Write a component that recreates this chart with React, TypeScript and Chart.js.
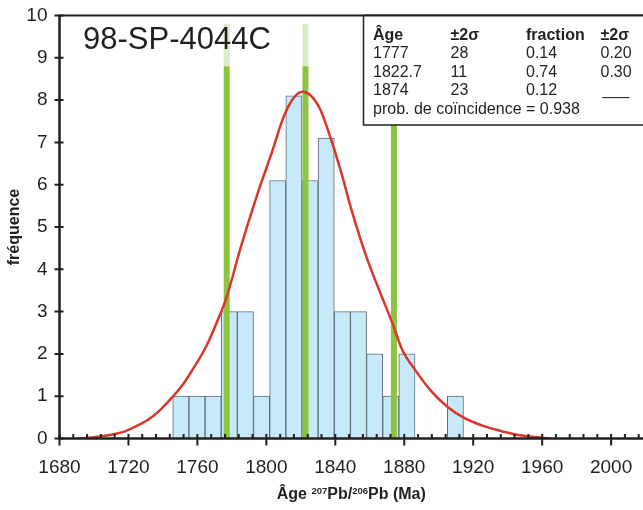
import React, { useEffect, useRef } from "react";
import { Chart, registerables } from "chart.js";

Chart.register(...registerables);

// ---------- data ----------
const binCenters = [
  1750.38, 1759.75, 1769.12, 1778.49, 1787.86, 1797.23, 1806.6, 1815.97, 1825.34,
  1834.71, 1844.08, 1853.45, 1862.82, 1872.19, 1881.56, 1890.93, 1900.3, 1909.67,
];
const binCounts = [1, 1, 1, 3, 3, 1, 6.1, 8.1, 6.1, 7.1, 3, 3, 2, 1, 2, 0, 0, 1];

const curveAges = [
  1690, 1700, 1710, 1718, 1726, 1732, 1738, 1746, 1752, 1758, 1765, 1771, 1777, 1785,
  1795, 1803, 1810, 1816, 1821, 1826, 1831, 1837, 1843, 1850, 1858, 1866, 1873, 1879,
  1886, 1895, 1905, 1915, 1925, 1934, 1944, 1954, 1965,
];
const curveDensity = [
  0, 0.03, 0.09, 0.17, 0.32, 0.46, 0.66, 1.0, 1.3, 1.68, 2.17, 2.72, 3.35, 4.5,
  5.8, 6.74, 7.6, 8.06, 8.2, 8.1, 7.8, 7.14, 6.35, 5.32, 4.3, 3.45, 2.74, 2.08,
  1.64, 1.15, 0.75, 0.48, 0.31, 0.2, 0.1, 0.04, 0,
];

const peakAges = [1777, 1822.7, 1874];
const peakSolidTop = 8.8;
const peakPaleTop = 9.8;

const xTickValues = [1680, 1720, 1760, 1800, 1840, 1880, 1920, 1960, 2000];
const yTickValues = [0, 1, 2, 3, 4, 5, 6, 7, 8, 9, 10];
const xMin = 1680;
const xMax = 2018.5;
const xMinorStep = 8;

const sampleName = "98-SP-4044C";
const legendHeader = ["Âge", "±2σ", "fraction", "±2σ"];
const legendRows = [
  ["1777", "28", "0.14", "0.20"],
  ["1822.7", "11", "0.74", "0.30"],
  ["1874", "23", "0.12", "___"],
];
const legendNote = "prob. de coïncidence = 0.938";
const yTitle = "fréquence";

// ---------- styling ----------
const FONT = '"Liberation Sans", Arial, Helvetica, sans-serif';
const INK = "#231f20";
const GREEN = "#8cc43f";
const GREEN_PALE = "#dcecc9";
const RED = "#d9372a";
const BAR_FILL = "#c8e9f9";
const BAR_EDGE = "#5f6c75";

const decorPlugin = {
  id: "decor",
  afterDatasetsDraw(chart: any) {
    const { ctx, chartArea: a, scales } = chart;
    const xs = scales.x;
    const ys = scales.y;
    ctx.save();
    ctx.strokeStyle = INK;
    ctx.lineCap = "butt";
    ctx.lineWidth = 2;
    ctx.beginPath();
    for (let v = xMin; v <= xMax; v += xMinorStep) {
      const px = xs.getPixelForValue(v);
      ctx.moveTo(px, a.bottom - 4.5);
      ctx.lineTo(px, a.bottom);
    }
    for (const t of xs.ticks) {
      const px = xs.getPixelForValue(t.value);
      ctx.moveTo(px, a.bottom - 4.5);
      ctx.lineTo(px, a.bottom + 7);
    }
    for (const t of ys.ticks) {
      const py = ys.getPixelForValue(t.value);
      ctx.moveTo(a.left - 5, py);
      ctx.lineTo(a.left + 4, py);
    }
    ctx.stroke();
    ctx.lineWidth = 2.5;
    ctx.beginPath();
    ctx.moveTo(a.left, a.top);
    ctx.lineTo(a.left, a.bottom + 1.2);
    ctx.moveTo(a.left - 1.2, a.bottom);
    ctx.lineTo(a.right, a.bottom);
    ctx.stroke();
    ctx.lineWidth = 2;
    ctx.beginPath();
    ctx.moveTo(a.left - 1.2, a.top);
    ctx.lineTo(a.right, a.top);
    ctx.stroke();
    ctx.restore();
  },
  afterDraw(chart: any) {
    const { ctx, chartArea: a } = chart;
    ctx.save();
    // sample name
    ctx.fillStyle = INK;
    ctx.textBaseline = "alphabetic";
    ctx.textAlign = "left";
    ctx.font = `31px ${FONT}`;
    ctx.fillText(sampleName, 83, 48.5);

    // legend box
    const bx = 363.5;
    const by = a.top;
    ctx.fillStyle = "#ffffff";
    ctx.fillRect(bx, by, 700 - bx, 125 - by);
    ctx.strokeStyle = INK;
    ctx.lineWidth = 1.5;
    ctx.beginPath();
    ctx.moveTo(bx, by);
    ctx.lineTo(bx, 125);
    ctx.lineTo(700, 125);
    ctx.stroke();
    ctx.lineWidth = 2;
    ctx.beginPath();
    ctx.moveTo(bx, by);
    ctx.lineTo(700, by);
    ctx.stroke();

    const cols = [373, 450.5, 526, 600.5];
    const baselines = [39.5, 58, 76.5, 95];
    ctx.fillStyle = INK;
    ctx.font = `bold 16px ${FONT}`;
    legendHeader.forEach((t, i) => ctx.fillText(t, cols[i], baselines[0]));
    ctx.font = `16px ${FONT}`;
    legendRows.forEach((row, r) => {
      row.forEach((t, i) => ctx.fillText(t, cols[i] + (t === "___" ? 2 : 0), baselines[r + 1]));
    });
    ctx.fillText(legendNote, cols[0], 113.5);

    // x-axis title with superscripts
    const big = `bold 16px ${FONT}`;
    const small = `bold 9.5px ${FONT}`;
    const parts: [string, boolean][] = [
      ["Âge ", false],
      ["207", true],
      ["Pb/", false],
      ["206", true],
      ["Pb (Ma)", false],
    ];
    let total = 0;
    for (const [t, sup] of parts) {
      ctx.font = sup ? small : big;
      total += ctx.measureText(t).width;
    }
    let cx = (a.left + a.right) / 2 - total / 2;
    const base = 499;
    for (const [t, sup] of parts) {
      ctx.font = sup ? small : big;
      ctx.fillText(t, cx, sup ? base - 5 : base);
      cx += ctx.measureText(t).width;
    }
    ctx.restore();
  },
};

export default function App() {
  const ref = useRef<HTMLCanvasElement | null>(null);

  useEffect(() => {
    if (!ref.current) return;
    const peakSolid = peakAges.map((age) => ({
      type: "line" as const,
      data: [
        { x: age, y: 0 },
        { x: age, y: peakSolidTop },
      ],
      borderColor: GREEN,
      borderWidth: 6,
      pointRadius: 0,
      fill: false,
      order: 1,
    }));
    const peakPale = peakAges.map((age) => ({
      type: "line" as const,
      data: [
        { x: age, y: peakSolidTop },
        { x: age, y: peakPaleTop },
      ],
      borderColor: GREEN_PALE,
      borderWidth: 6,
      pointRadius: 0,
      fill: false,
      order: 1,
    }));

    const chart = new Chart(ref.current, {
      type: "bar",
      data: {
        datasets: [
          {
            type: "line" as const,
            data: curveAges.map((x, i) => ({ x, y: curveDensity[i] })),
            borderColor: RED,
            borderWidth: 2.5,
            pointRadius: 0,
            fill: false,
            cubicInterpolationMode: "monotone",
            order: 0,
          },
          ...peakSolid,
          ...peakPale,
          {
            type: "bar" as const,
            data: binCenters.map((x, i) => ({ x, y: binCounts[i] })),
            backgroundColor: BAR_FILL,
            borderColor: BAR_EDGE,
            borderWidth: 1,
            barPercentage: 1,
            categoryPercentage: 1,
            order: 2,
          },
        ] as any,
      },
      options: {
        animation: false,
        responsive: false,
        maintainAspectRatio: false,
        devicePixelRatio: 1,
        layout: { padding: { top: 15.5, left: 0, right: 0, bottom: 0 } },
        plugins: {
          legend: { display: false },
          tooltip: { enabled: false },
        },
        scales: {
          x: {
            type: "linear",
            min: xMin,
            max: xMax,
            offset: false,
            grid: { display: false, drawTicks: false, offset: false },
            border: { display: false },
            afterBuildTicks: (s: any) => {
              s.ticks = xTickValues.map((v) => ({ value: v }));
            },
            afterFit: (s: any) => {
              s.height = 71.5;
              s.paddingLeft = 0;
              s.paddingRight = 0;
            },
            ticks: {
              color: INK,
              font: { family: FONT, size: 19 },
              padding: 18,
              maxRotation: 0,
              autoSkip: false,
              callback: (v: any) => String(v),
            },
          },
          y: {
            type: "linear",
            min: 0,
            max: 10,
            grid: { display: false, drawTicks: false },
            border: { display: false },
            afterBuildTicks: (s: any) => {
              s.ticks = yTickValues.map((v) => ({ value: v }));
            },
            afterFit: (s: any) => {
              s.width = 59.5;
              s.paddingTop = 0;
              s.paddingBottom = 0;
            },
            title: {
              display: true,
              text: yTitle,
              color: INK,
              font: { family: FONT, size: 16, weight: "bold" },
              padding: { top: 5, bottom: 0 },
            },
            ticks: {
              color: INK,
              font: { family: FONT, size: 19 },
              padding: 12,
              autoSkip: false,
              callback: (v: any) => String(v),
            },
          },
        },
      } as any,
      plugins: [decorPlugin],
    });
    return () => chart.destroy();
  }, []);

  return (
    <div
      style={{
        position: "fixed",
        left: 0,
        top: 0,
        width: 643,
        height: 510,
        background: "#ffffff",
      }}
    >
      <canvas ref={ref} width={643} height={510} style={{ width: 643, height: 510, display: "block" }} />
    </div>
  );
}
